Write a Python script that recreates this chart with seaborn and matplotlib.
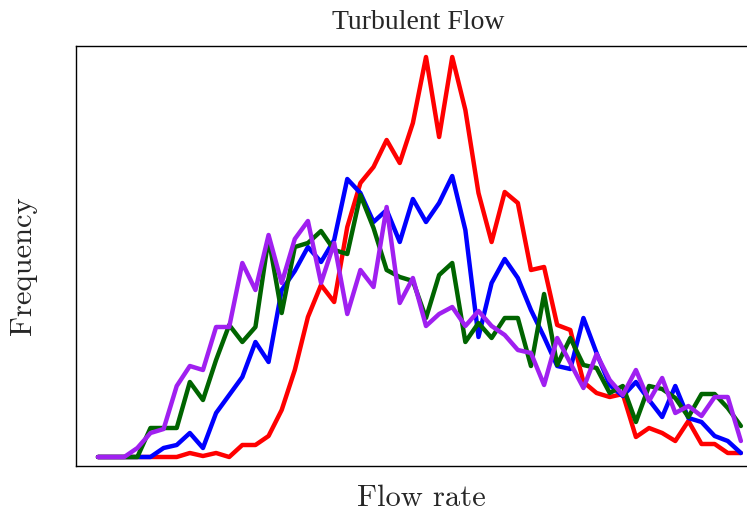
import numpy as np
import pandas as pd
import matplotlib
matplotlib.use("Agg")
import matplotlib.pyplot as plt
import seaborn as sns

# Frequencies (arbitrary units), 50 bins
red = [0, 0, 0, 0, 0, 0, 0, 4, 1, 4, 0, 12, 12, 21, 47, 87, 140, 172, 155, 230,
       274, 290, 317, 294, 334, 400, 320, 400, 347, 264, 215, 265, 254, 187, 190, 132,
       127, 75, 64, 60, 63, 20, 29, 24, 16, 36, 13, 13, 4, 4]
blue = [0, 0, 0, 0, 0, 9, 12, 24, 9, 44, 62, 80, 115, 95, 167, 186, 210, 195, 217, 278,
        264, 235, 247, 215, 258, 235, 254, 281, 227, 120, 174, 198, 179, 147, 120, 91,
        88, 139, 104, 72, 61, 75, 57, 40, 71, 39, 35, 21, 16, 4]
green = [0, 0, 0, 0, 29, 29, 29, 75, 57, 97, 132, 115, 130, 219, 144, 210, 214, 226, 207, 203,
         262, 229, 187, 180, 176, 139, 182, 194, 115, 134, 119, 139, 139, 91, 163, 92,
         119, 92, 89, 64, 71, 35, 71, 68, 59, 40, 63, 63, 49, 31]
purple = [0, 0, 0, 9, 24, 28, 71, 91, 87, 130, 130, 194, 167, 222, 174, 218, 236, 174, 214, 143,
          187, 170, 250, 154, 179, 131, 143, 150, 131, 146, 131, 122, 107, 104, 72, 119,
          94, 69, 103, 77, 62, 87, 56, 79, 44, 51, 41, 60, 60, 16]
series_names = ["red", "blue", "green", "purple"]
series_colors = ["#ff0000", "#0000ff", "#006400", "#a020f0"]

title = "Turbulent Flow"
xlabel = "Flow rate"
ylabel = "Frequency"

bins = np.arange(len(red))
df = pd.concat([
    pd.DataFrame({"bin": bins, "count": vals, "series": name})
    for name, vals in zip(series_names, [red, blue, green, purple])
])

sns.set_style("white")
fig = plt.figure(figsize=(7.47, 5.12), dpi=100)
ax_right = 760
ax = fig.add_axes([76 / 747, 46 / 512, (ax_right - 76) / 747, 420 / 512])

sns.lineplot(data=df, x="bin", y="count", hue="series", hue_order=series_names,
             palette=dict(zip(series_names, series_colors)), linewidth=3.2,
             legend=False, ax=ax)

ax.set_xlim(-22 / 13.12, (ax_right - 98) / 13.12)
ax.set_ylim(-9, 411)
ax.set_xticks([])
ax.set_yticks([])
for s in ax.spines.values():
    s.set_color("black")
    s.set_linewidth(1.0)

ax.set_title(title, fontsize=20, family="Liberation Serif", pad=12)
ax.set_xlabel(xlabel, fontsize=22, family="cmr10", labelpad=13)
ax.set_ylabel(ylabel, fontsize=22, family="cmr10")
ax.yaxis.set_label_coords(-0.057, 0.476)
ax.xaxis.set_label_coords(0.505, -0.045)

fig.savefig("out.png", dpi=100)
